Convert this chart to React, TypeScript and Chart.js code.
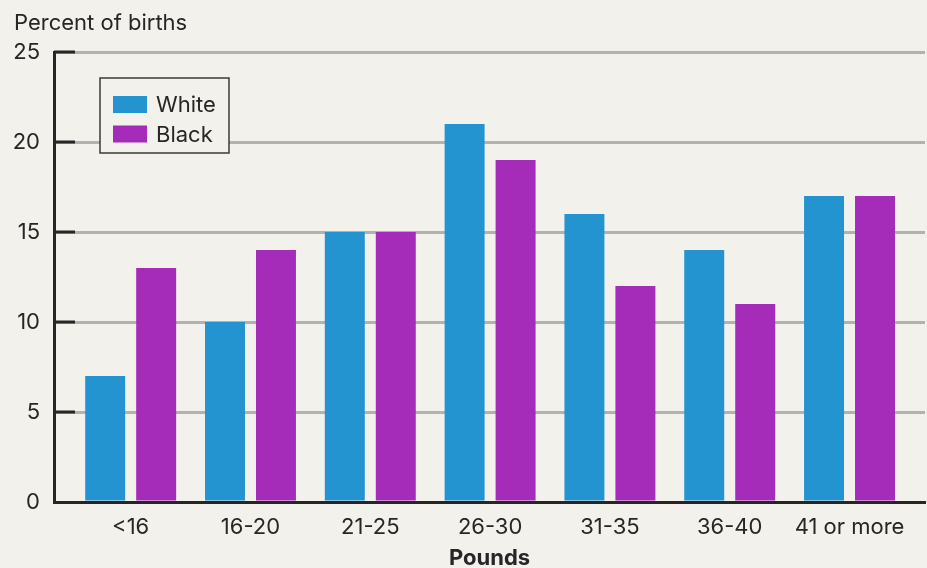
import React, { useEffect, useRef } from 'react';
import { Chart, registerables } from 'chart.js';

Chart.register(...registerables);

const categories = ['<16', '16-20', '21-25', '26-30', '31-35', '36-40', '41 or more'];
const whiteValues = [7, 10, 15, 21, 16, 14, 17];
const blackValues = [13, 14, 15, 19, 12, 11, 17];
const yTickValues = [0, 5, 10, 15, 20, 25];
const seriesNames = ['White', 'Black'];
const seriesColors = ['#2394cf', '#a42cb9'];
const yTitle = 'Percent of births';
const xTitle = 'Pounds';

const BG = '#f2f1ec';
const TEXT = '#262626';
const AXIS = '#262626';
const FONT = 'Inter, "DejaVu Sans", sans-serif';

export default function App() {
  const ref = useRef<HTMLCanvasElement | null>(null);

  useEffect(() => {
    document.body.style.margin = '0';
    document.body.style.background = BG;
    const canvas = ref.current;
    if (!canvas) return;

    const bgPlugin = {
      id: 'bg',
      beforeDraw(chart: any) {
        const ctx = chart.ctx;
        ctx.save();
        ctx.fillStyle = BG;
        ctx.fillRect(0, 0, chart.width, chart.height);
        ctx.restore();
      },
    };

    const innerTicks = {
      id: 'innerTicks',
      beforeDatasetsDraw(chart: any) {
        const ctx = chart.ctx;
        const y = chart.scales.y;
        const left = chart.chartArea.left;
        ctx.save();
        ctx.strokeStyle = AXIS;
        ctx.lineWidth = 3;
        yTickValues.forEach((v) => {
          if (v === 0) return;
          const py = y.getPixelForValue(v);
          ctx.beginPath();
          ctx.moveTo(left, py);
          ctx.lineTo(left + 21, py);
          ctx.stroke();
        });
        ctx.restore();
      },
    };

    const overlay = {
      id: 'overlay',
      afterDraw(chart: any) {
        const ctx = chart.ctx;
        const area = chart.chartArea;
        ctx.save();
        ctx.fillStyle = TEXT;
        ctx.textAlign = 'left';
        ctx.textBaseline = 'alphabetic';
        ctx.font = `22px ${FONT}`;
        ctx.fillText(yTitle, 14, 29.5);

        ctx.textAlign = 'center';
        ctx.font = `bold 22px ${FONT}`;
        ctx.fillText(xTitle, (area.left + area.right) / 2, 565);

        // legend box
        const bx = 100, by = 78, bw = 129, bh = 75;
        ctx.fillStyle = BG;
        ctx.fillRect(bx, by, bw, bh);
        ctx.strokeStyle = '#3a3a3a';
        ctx.lineWidth = 1.5;
        ctx.strokeRect(bx, by, bw, bh);
        ctx.font = `22px ${FONT}`;
        ctx.textAlign = 'left';
        seriesNames.forEach((name, i) => {
          const sy = 96 + i * 29.5;
          ctx.fillStyle = seriesColors[i];
          ctx.fillRect(113, sy, 34, 17);
          ctx.fillStyle = TEXT;
          ctx.fillText(name, 156, sy + 16);
        });
        ctx.restore();
      },
    };

    const chart = new Chart(canvas, {
      type: 'bar',
      data: {
        datasets: [
          {
            label: seriesNames[0],
            data: whiteValues.map((v, i) => ({ x: i, y: v })),
            backgroundColor: seriesColors[0],
            borderWidth: 0,
            barPercentage: 0.784,
            categoryPercentage: 0.851,
          },
          {
            label: seriesNames[1],
            data: blackValues.map((v, i) => ({ x: i, y: v })),
            backgroundColor: seriesColors[1],
            borderWidth: 0,
            barPercentage: 0.784,
            categoryPercentage: 0.851,
          },
        ],
      },
      options: {
        animation: false,
        responsive: false,
        devicePixelRatio: 1,
        layout: { padding: { top: 52, right: 2, left: 0, bottom: 0 } },
        plugins: {
          legend: { display: false },
          tooltip: { enabled: false },
          title: { display: false },
        },
        scales: {
          x: {
            type: 'linear',
            offset: false,
            min: -0.64,
            max: 6.63,
            afterFit(scale: any) {
              scale.height = 66;
            },
            afterBuildTicks(scale: any) {
              scale.ticks = categories.map((_, i) => ({ value: i }));
            },
            grid: { display: false, drawTicks: false, offset: false },
            border: { display: true, color: AXIS, width: 3, z: 1 },
            ticks: {
              autoSkip: false,
              maxRotation: 0,
              padding: 12,
              color: TEXT,
              font: { family: FONT, size: 22 },
              callback: (v: any) => categories[v] ?? '',
            },
          },
          y: {
            min: 0,
            max: 25,
            afterFit(scale: any) {
              scale.width = 54;
            },
            afterBuildTicks(scale: any) {
              scale.ticks = yTickValues.map((v) => ({ value: v }));
            },
            grid: { color: '#b2b2b2', lineWidth: 3, drawTicks: false },
            border: { display: true, color: AXIS, width: 3 },
            ticks: {
              padding: 14,
              color: TEXT,
              font: { family: FONT, size: 22 },
            },
          },
        },
      },
      plugins: [bgPlugin, innerTicks, overlay],
    } as any);

    return () => chart.destroy();
  }, []);

  return (
    <div style={{ width: 927, height: 568, background: BG }}>
      <canvas ref={ref} width={927} height={568} style={{ display: 'block' }} />
    </div>
  );
}
